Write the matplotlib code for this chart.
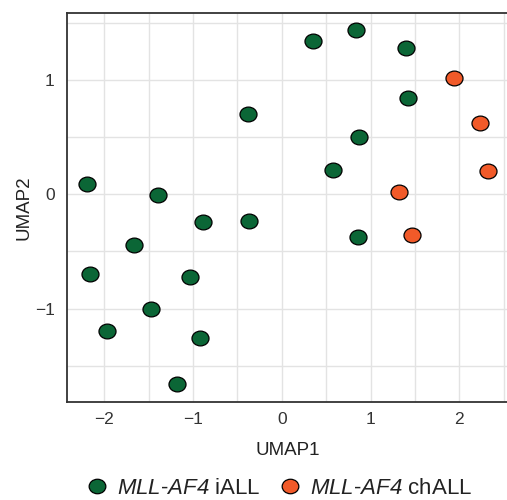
import numpy as np
import matplotlib
matplotlib.use("Agg")
import matplotlib.pyplot as plt
from matplotlib.path import Path
from matplotlib.lines import Line2D
from matplotlib.ticker import MultipleLocator

plt.rcParams["font.family"] = ["Liberation Sans", "DejaVu Sans"]
# italic gene names (sf slot keeps digits italic too)
plt.rcParams["mathtext.fontset"] = "custom"
plt.rcParams["mathtext.sf"] = "Liberation Sans:italic"
plt.rcParams["mathtext.rm"] = "Liberation Sans"

# UMAP embedding, infant ALL samples
iall_x = [-2.20, -1.39, -0.89, -0.37, -1.67, -0.38, 0.35, 0.84, 1.40, 1.42,
          0.87, 0.58, 0.86, -2.16, -1.03, -1.47, -1.97, -0.92, -1.18]
iall_y = [0.09, -0.01, -0.24, -0.23, -0.44, 0.70, 1.34, 1.44, 1.28, 0.84,
          0.50, 0.21, -0.37, -0.70, -0.72, -1.00, -1.20, -1.26, -1.66]

# childhood ALL samples
chall_x = [1.94, 2.23, 2.32, 1.32, 1.47]
chall_y = [1.02, 0.62, 0.20, 0.02, -0.36]

group_labels = [r"$\mathsf{MLL}$-$\mathsf{AF4}$ iALL",
                r"$\mathsf{MLL}$-$\mathsf{AF4}$ chALL"]

green = "#0b6636"
orange = "#f15a29"

# slightly wide ellipse marker
circ = Path.unit_circle()
ellipse = Path(circ.vertices * np.array([1.15, 1.0]), circ.codes)

fig = plt.figure(figsize=(5.07, 5.0), dpi=100)
ax = fig.add_axes([67 / 507, 98 / 500, 441 / 507, 389 / 500])

ax.scatter(iall_x, iall_y, s=150, marker=ellipse, c=green,
           edgecolors="black", linewidths=0.9, zorder=3)
ax.scatter(chall_x, chall_y, s=150, marker=ellipse, c=orange,
           edgecolors="black", linewidths=0.9, zorder=3)

ax.set_xlim(-2.42, 2.549)
ax.set_ylim(-1.817, 1.586)
ax.xaxis.set_major_locator(MultipleLocator(1))
ax.yaxis.set_major_locator(MultipleLocator(1))
ax.xaxis.set_minor_locator(MultipleLocator(0.5))
ax.yaxis.set_minor_locator(MultipleLocator(0.5))
ax.grid(which="both", color="#e3e3e3", linewidth=1.0, zorder=0)
ax.set_axisbelow(True)

ax.tick_params(which="both", length=0, labelsize=12.5, labelcolor="#333333")
ax.tick_params(axis="x", pad=7)
ax.tick_params(axis="y", pad=9)

for side in ["left", "top", "bottom", "right"]:
    ax.spines[side].set_color("#333333")
    ax.spines[side].set_linewidth(1.3)

ax.set_xlabel("UMAP1", fontsize=13.5, color="#222222", labelpad=11)
ax.set_ylabel("UMAP2", fontsize=13.5, color="#222222", labelpad=1.5)

handles = [
    Line2D([], [], linestyle="none", marker=ellipse, markersize=12,
           markerfacecolor=green, markeredgecolor="black", markeredgewidth=0.9),
    Line2D([], [], linestyle="none", marker=ellipse, markersize=12,
           markerfacecolor=orange, markeredgecolor="black", markeredgewidth=0.9),
]
fig.legend(handles, group_labels, loc="center", ncol=2,
           bbox_to_anchor=(279 / 507, 1 - 488 / 500),
           frameon=False, fontsize=16, handletextpad=0.4,
           columnspacing=0.85, handlelength=1.0, labelcolor="#222222")

fig.savefig("out.png", dpi=100)
